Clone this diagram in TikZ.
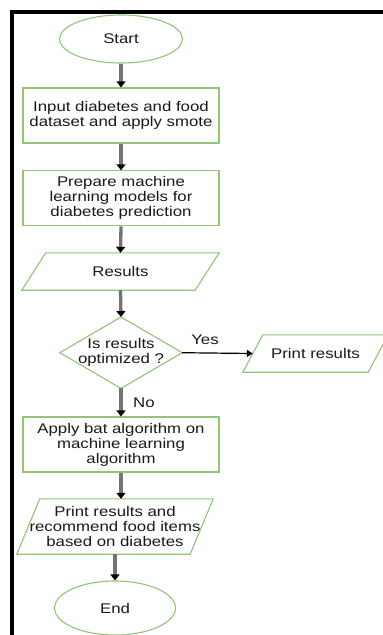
\documentclass[tikz,border=0pt]{standalone}
\usepackage{fontspec}
\setmainfont{Liberation Sans}[FakeStretch=1.2]
\usetikzlibrary{arrows.meta,shapes.geometric}
\definecolor{boxgreen}{RGB}{145,198,118}
\definecolor{shaft}{RGB}{115,115,115}
\definecolor{txt}{RGB}{25,25,25}
\tikzset{
  base/.style={font=\fontsize{14}{15}\selectfont, text=txt, align=center, inner sep=0pt},
  term/.style={base, ellipse, draw=boxgreen, line width=1.1pt},
  proc/.style={base, rectangle, draw=boxgreen, line width=1.1pt, minimum width=196pt},
  io/.style={base, rectangle},
  outline/.style={draw=boxgreen, line width=1.1pt, line join=miter},
  flow/.style={draw=shaft, line width=3.3pt, -{Triangle[length=6pt,width=9pt,color=black]}},
  yesline/.style={draw=black, line width=1.2pt, -{Triangle[length=6pt,width=7pt]}},
  lbl/.style={font=\fontsize{14}{15}\selectfont, text=txt, inner sep=0pt},
  frameline/.style={draw=black, line width=4pt}
}
\begin{document}
\begin{tikzpicture}[x=1pt,y=-1pt]
\useasboundingbox (0,0) rectangle (383,635);
\clip (0,0) rectangle (383,635);
\fill[white] (0,0) rectangle (383,635);
\draw[frameline] (12,645) -- (12,12) -- (395,12);

\node[term, minimum width=123pt, minimum height=48pt] (start) at (121,39) {Start};
\node[proc, minimum height=55pt] (in) at (121,115.5) {Input diabetes and food\\dataset and apply smote};
\node[proc, minimum height=55pt] (prep) at (121,198.3) {Prepare machine\\learning models for\\diabetes prediction};
\node[io, minimum width=197pt, minimum height=37pt] (res) at (120.5,271.5) {Results};
\draw[outline] (res.south west) -- ([xshift=24pt]res.north west) -- (res.north east) -- ([xshift=-24pt]res.south east) -- cycle;
\node[io, minimum width=122pt, minimum height=71pt] (dec) at (121,352.7) {Is results\\optimized ?};
\draw[outline] (dec.north) -- (dec.east) -- (dec.south) -- (dec.west) -- cycle;
\node[io, minimum width=145pt, minimum height=37pt] (pr) at (315.5,353.5) {Print results};
\draw[outline] (pr.south west) -- ([xshift=20pt]pr.north west) -- (pr.north east) -- ([xshift=-20pt]pr.south east) -- cycle;
\node[proc, minimum height=55pt] (alg) at (121,444.5) {Apply bat algorithm on\\machine learning\\algorithm};
\node[io, minimum width=196pt, minimum height=55pt] (out) at (115,526.5) {Print results and\\recommend food items\\based on diabetes};
\draw[outline] (out.south west) -- ([xshift=23pt]out.north west) -- (out.north east) -- ([xshift=-23pt]out.south east) -- cycle;
\node[term, minimum width=121pt, minimum height=54pt] (stop) at (115,608) {End};

\draw[flow] (start.south) -- (in.north);
\draw[flow] (in.south) -- (prep.north);
\draw[flow] (prep.south) -- (res.north);
\draw[flow] (res.south) -- (dec.north);
\draw[yesline] (dec.east) -- ([xshift=10pt]pr.west);
\node[lbl] (yes) at (205,340) {Yes};
\draw[flow] (dec.south) -- (alg.north);
\node[lbl, anchor=west] (no) at (133,403) {No};
\draw[flow] (alg.south) -- (alg.south |- out.north);
\draw[flow] (out.south) -- (stop.north);
\end{tikzpicture}
\end{document}
